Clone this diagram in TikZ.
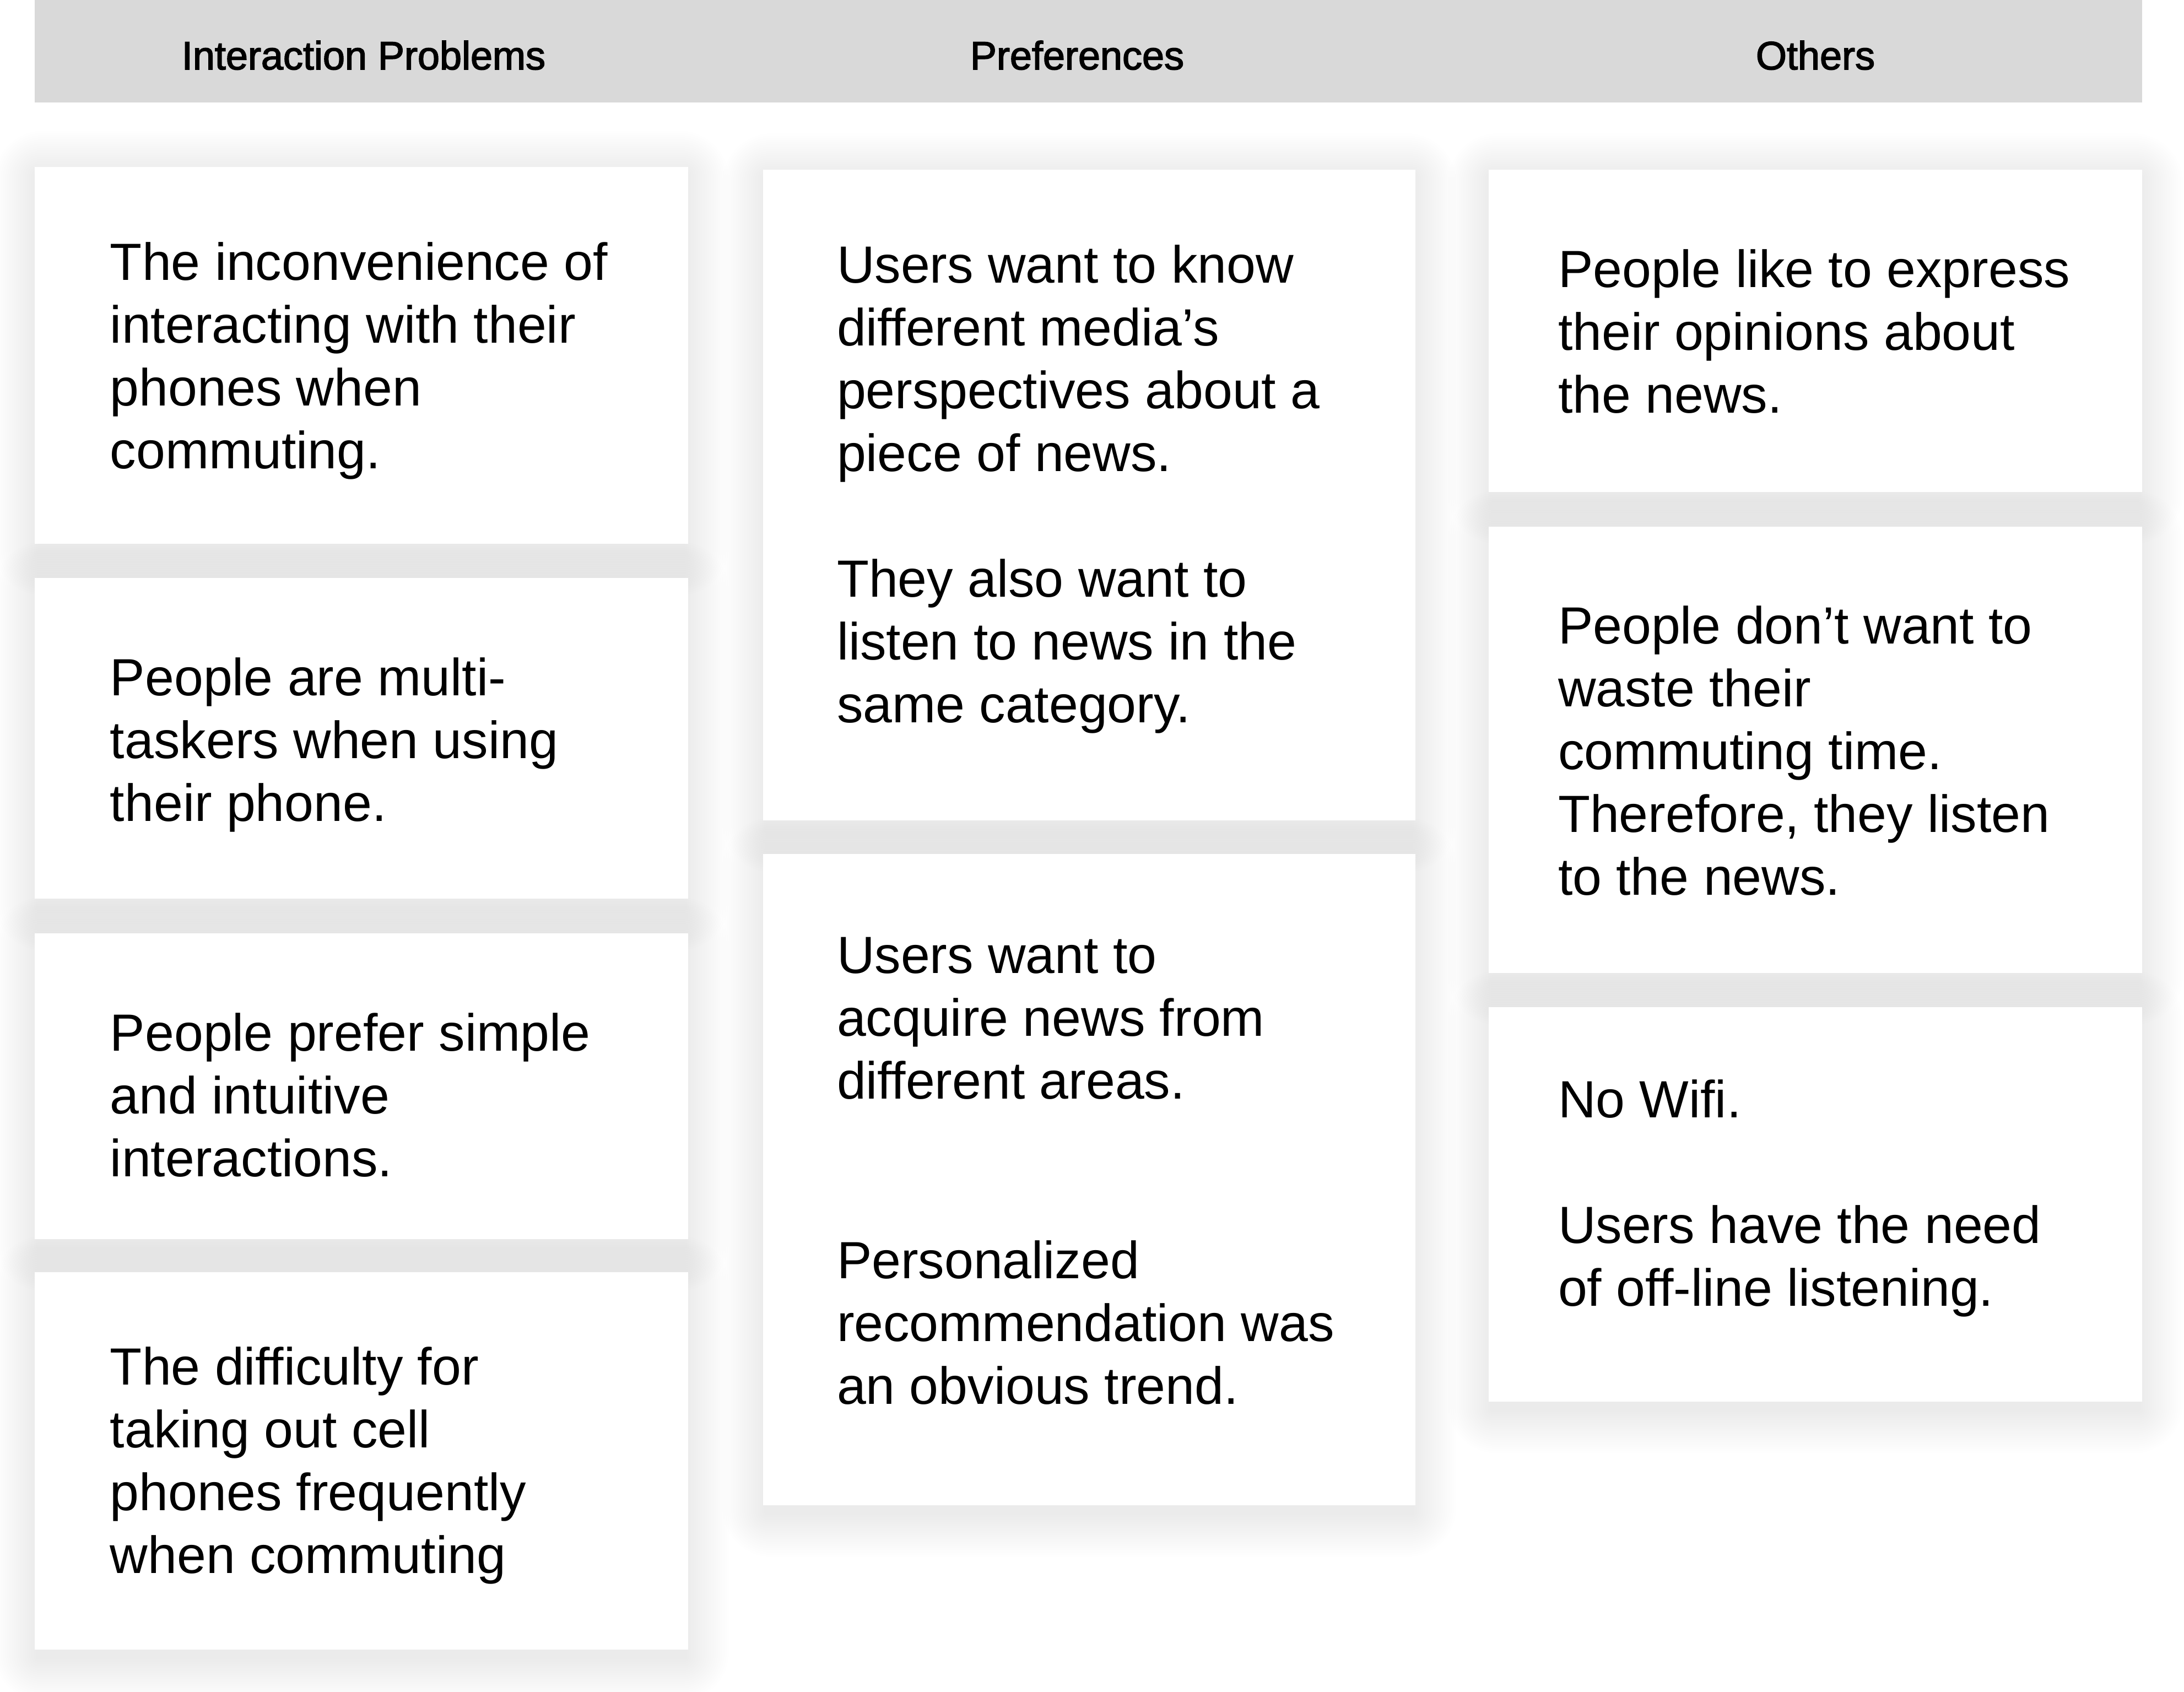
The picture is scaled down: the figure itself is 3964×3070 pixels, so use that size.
\documentclass[tikz,border=0pt]{standalone}
\usepackage{fontspec}
\setmainfont{Liberation Sans}
\newfontfamily\headfont[FakeBold=2.2]{Liberation Sans}

\definecolor{hdrgray}{HTML}{D9D9D9}
\newcommand\cardfont{\fontsize{19}{22.8}\selectfont}
\newcommand\textline[1]{\hbox{#1}}
\newcommand\blankline{\hbox{}}

\tikzset{
  headbar/.style={fill=hdrgray, inner sep=0pt},
  headtext/.style={anchor=base, inner sep=0pt, text=black,
    font=\headfont\fontsize{14.4}{16}\selectfont},
  card/.style={fill=white, inner sep=0pt},
  notetext/.style={anchor=base west, inner sep=0pt, text=black, font=\cardfont},
  shadowlayer/.style={fill=black, opacity=0.0024},
}

\begin{document}
\begin{tikzpicture}[x=0.2pt, y=-0.2pt]
\useasboundingbox[fill=white] (0,0) rectangle (3964,3070);

% column header strip
\node[headbar, minimum width=765pt, minimum height=37.2pt] (bar) at (1975.5,93) {};
\node[headtext] (h1) at (660,126) {Interaction Problems};
\node[headtext] (h2) at (1955,126) {Preferences};
\node[headtext] (h3) at (3295,126) {Others};

% soft drop shadows under every card
\foreach \x/\y/\X/\Y in {
  63/303/1249/987, 63/1049/1249/1631, 63/1694/1249/2249, 63/2309/1249/2994,
  1385/308/2569/1489, 1385/1550/2569/2732,
  2702/308/3888/893, 2702/956/3888/1766, 2702/1828/3888/2544}{
  \foreach \k in {1,...,20}{
    \pgfmathsetmacro\rr{0.9*\k}
    \fill[shadowlayer, rounded corners=\rr pt]
      ({\x-4*\k+6},{\y-4*\k+14}) rectangle ({\X+4*\k-6},{\Y+4*\k+14});
  }
}

% white cards
\foreach \n/\x/\y/\X/\Y in {
  c11/63/303/1249/987, c12/63/1049/1249/1631, c13/63/1694/1249/2249, c14/63/2309/1249/2994,
  c21/1385/308/2569/1489, c22/1385/1550/2569/2732,
  c31/2702/308/3888/893, c32/2702/956/3888/1766, c33/2702/1828/3888/2544}{
  \pgfmathsetmacro\cw{(\X-\x)*0.2}
  \pgfmathsetmacro\ch{(\Y-\y)*0.2}
  \node[card, minimum width=\cw pt, minimum height=\ch pt] (\n) at ({(\x+\X)/2},{(\y+\Y)/2}) {};
}

% card texts: Interaction Problems
\node[notetext] (t11) at (199,508) {\vtop{%
  \textline{The inconvenience of}\textline{interacting with their}%
  \textline{phones when}\textline{commuting.}}};
\node[notetext] (t12) at (199,1262) {\vtop{%
  \textline{People are multi-}\textline{taskers when using}\textline{their phone.}}};
\node[notetext] (t13) at (199,1907) {\vtop{%
  \textline{People prefer simple}\textline{and intuitive}\textline{interactions.}}};
\node[notetext] (t14) at (199,2513) {\vtop{%
  \textline{The difficulty for}\textline{taking out cell}%
  \textline{phones frequently}\textline{when commuting}}};

% card texts: Preferences
\node[notetext] (t21) at (1518,513) {\vtop{%
  \textline{Users want to know}\textline{different media’s}%
  \textline{perspectives about a}\textline{piece of news.}\blankline
  \textline{They also want to}\textline{listen to news in the}\textline{same category.}}};
\node[notetext] (t22) at (1518,1766) {\vtop{%
  \textline{Users want to}\textline{acquire news from}\textline{different areas.}}};
\node[notetext] (t23) at (1518,2320) {\vtop{%
  \textline{Personalized}\textline{recommendation was}\textline{an obvious trend.}}};

% card texts: Others
\node[notetext] (t31) at (2827,521) {\vtop{%
  \textline{People like to express}\textline{their opinions about}\textline{the news.}}};
\node[notetext] (t32) at (2827,1168) {\vtop{%
  \textline{People don’t want to}\textline{waste their}\textline{commuting time.}%
  \textline{Therefore, they listen}\textline{to the news.}}};
\node[notetext] (t33) at (2827,2028) {\vtop{%
  \textline{No Wifi.}\blankline
  \textline{Users have the need}\textline{of off-line listening.}}};
\end{tikzpicture}
\end{document}
